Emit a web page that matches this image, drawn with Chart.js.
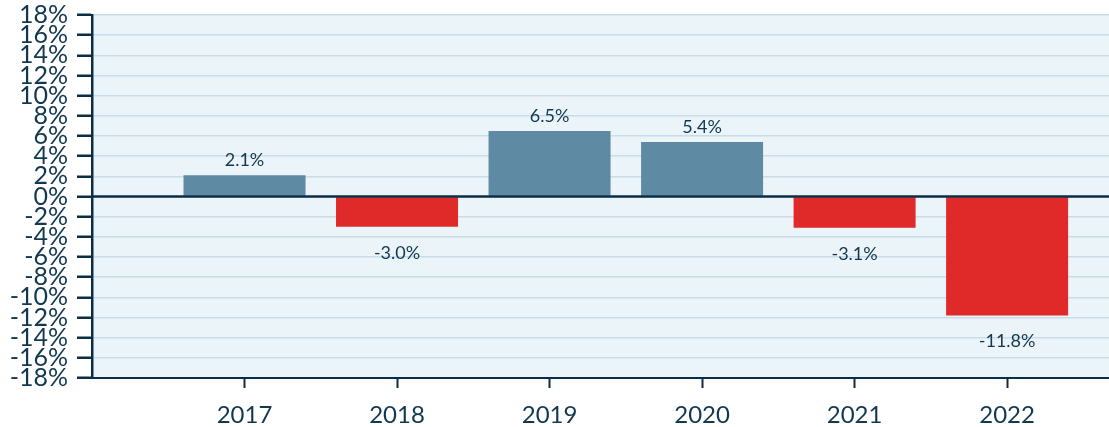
<!DOCTYPE html>
<html>
<head>
<meta charset="utf-8">
<script src="https://cdn.jsdelivr.net/npm/chart.js@4"></script>
<style>
  html, body { margin: 0; padding: 0; background: #ffffff; }
  #wrap { width: 1109px; height: 427px; position: relative; }
</style>
</head>
<body>
<div id="wrap"><canvas id="chart"></canvas></div>
<script>
// Annual change, in percent
const years = [2017, 2018, 2019, 2020, 2021, 2022];
const growth = [2.1, -3.0, 6.5, 5.4, -3.1, -11.8];
const yTicks = [-18, -16, -14, -12, -10, -8, -6, -4, -2, 0, 2, 4, 6, 8, 10, 12, 14, 16, 18];

const INK = '#12384f';
const AXIS = '#0c2e45';
const GRID = '#c9dde9';
const PANEL = '#ebf4f8';
const UP = '#5e8ba3';
const DOWN = '#e02a2a';
const FONT = 'Lato, "Open Sans", sans-serif';

// Panel fill behind the plot area
const panelFill = {
  id: 'panelFill',
  beforeDraw(chart) {
    const { ctx, chartArea: a } = chart;
    ctx.save();
    ctx.fillStyle = PANEL;
    ctx.fillRect(a.left, a.top, a.right - a.left, a.bottom - a.top);
    ctx.restore();
  }
};

// Baseline at 0% and the value labels on each bar
const barExtras = {
  id: 'barExtras',
  afterDatasetsDraw(chart) {
    const { ctx, chartArea: a } = chart;
    const y0 = chart.scales.y.getPixelForValue(0);
    ctx.save();
    ctx.strokeStyle = AXIS;
    ctx.lineWidth = 2.5;
    ctx.beginPath();
    ctx.moveTo(a.left, y0);
    ctx.lineTo(a.right, y0);
    ctx.stroke();

    ctx.fillStyle = INK;
    ctx.font = '18px ' + FONT;
    ctx.textAlign = 'center';
    ctx.textBaseline = 'middle';
    const meta = chart.getDatasetMeta(0);
    meta.data.forEach((bar, i) => {
      const v = growth[i];
      const label = v.toFixed(1) + '%';
      const y = v >= 0 ? bar.y - 15 : bar.y + 26;
      ctx.fillText(label, bar.x, y);
    });
    ctx.restore();
  }
};

new Chart(document.getElementById('chart'), {
  type: 'bar',
  data: {
    datasets: [{
      data: years.map((yr, i) => ({ x: yr, y: growth[i] })),
      backgroundColor: growth.map(v => v >= 0 ? UP : DOWN),
      borderWidth: 0,
      categoryPercentage: 0.8,
      barPercentage: 1.0
    }]
  },
  options: {
    responsive: true,
    maintainAspectRatio: false,
    animation: false,
    layout: { padding: { top: 15, right: 0, bottom: 0, left: 0 } },
    plugins: {
      legend: { display: false },
      tooltip: { enabled: false }
    },
    scales: {
      x: {
        type: 'linear',
        min: years[0] - 1,
        max: years[years.length - 1] + 0.668,
        offset: false,
        afterBuildTicks: s => { s.ticks = years.map(v => ({ value: v })); },
        afterFit: s => { s.height = 49; s.paddingLeft = 0; s.paddingRight = 0; },
        ticks: {
          autoSkip: false,
          maxRotation: 0,
          padding: 13,
          color: INK,
          font: { family: FONT, size: 24 },
          callback: v => String(v)
        },
        grid: {
          offset: false,
          drawOnChartArea: false,
          drawTicks: true,
          tickLength: 10,
          tickWidth: 2,
          tickColor: AXIS
        },
        border: { display: true, color: AXIS, width: 2 }
      },
      y: {
        min: yTicks[0],
        max: yTicks[yTicks.length - 1],
        afterBuildTicks: s => { s.ticks = yTicks.map(v => ({ value: v })); },
        afterFit: s => { s.width = 92; s.paddingTop = 0; s.paddingBottom = 0; },
        ticks: {
          autoSkip: false,
          padding: 9,
          color: INK,
          font: { family: FONT, size: 25, lineHeight: 1.2 },
          callback: v => v + '%'
        },
        grid: {
          color: GRID,
          lineWidth: 1.5,
          drawTicks: true,
          tickLength: 15,
          tickWidth: 2.5,
          tickColor: AXIS
        },
        border: { display: true, color: AXIS, width: 2.5 }
      }
    }
  },
  plugins: [panelFill, barExtras]
});
</script>
</body>
</html>
